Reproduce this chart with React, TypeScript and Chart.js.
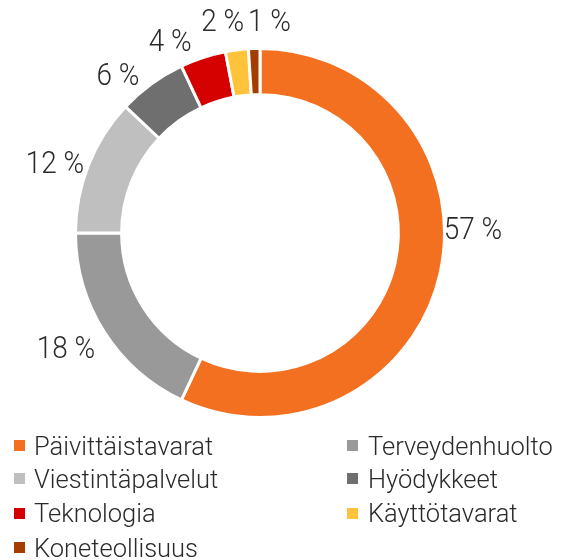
import React, { useEffect, useRef } from "react";
import { Chart, registerables } from "chart.js";

Chart.register(...registerables);

const categories = [
  "Päivittäistavarat",
  "Terveydenhuolto",
  "Viestintäpalvelut",
  "Hyödykkeet",
  "Teknologia",
  "Käyttötavarat",
  "Koneteollisuus",
];
const shares = [57, 18, 12, 6, 4, 2, 1];
const valueLabels = ["57 %", "18 %", "12 %", "6 %", "4 %", "2 %", "1 %"];
const colors = ["#F37021", "#999999", "#BFBFBF", "#6F6F6F", "#D50000", "#FFC33B", "#A43D00"];

const FONT = "Roboto, 'DejaVu Sans', sans-serif";
const TEXT_COLOR = "#2a2a2a";

// label placement tweaks (angle shift in degrees, distance beyond outer radius)
const labelPlacement = [
  { shift: -13.1, extra: 28.5 },
  { shift: 1.2, extra: 42.3 },
  { shift: -3.4, extra: 31.3 },
  { shift: -6.3, extra: 26.5 },
  { shift: -7.3, extra: 25.7 },
  { shift: -2.9, extra: 28.8 },
  { shift: 4.4, extra: 25.7 },
];

const outsideLabels = {
  id: "outsideLabels",
  afterDatasetsDraw(chart: any) {
    const ctx = chart.ctx;
    const meta = chart.getDatasetMeta(0);
    meta.data.forEach((arc: any, i: number) => {
      const p = labelPlacement[i] || { shift: 0, extra: 30 };
      const mid = (arc.startAngle + arc.endAngle) / 2 + (p.shift * Math.PI) / 180;
      const d = arc.outerRadius + p.extra;
      const x = arc.x + Math.cos(mid) * d;
      const y = arc.y + Math.sin(mid) * d;
      ctx.save();
      ctx.translate(x, y);
      ctx.scale(0.9, 1);
      ctx.font = `300 31px ${FONT}`;
      ctx.fillStyle = TEXT_COLOR;
      ctx.textAlign = "center";
      ctx.textBaseline = "middle";
      ctx.fillText(valueLabels[i], 0, 0);
      ctx.restore();
    });
  },
};

export default function App() {
  const ref = useRef<HTMLCanvasElement | null>(null);
  useEffect(() => {
    if (!ref.current) return;
    const chart = new Chart(ref.current, {
      type: "doughnut",
      data: {
        labels: categories,
        datasets: [
          {
            data: shares,
            backgroundColor: colors,
            borderColor: "#ffffff",
            borderWidth: 3,
            hoverBorderWidth: 3,
            hoverOffset: 0,
          },
        ],
      },
      options: {
        responsive: false,
        animation: false,
        cutout: "75%",
        layout: { padding: { left: 74, top: 47, right: 116, bottom: 21 } },
        plugins: {
          legend: { display: false },
          tooltip: { enabled: false },
        },
      },
      plugins: [outsideLabels],
    });
    return () => chart.destroy();
  }, []);

  return (
    <div style={{ position: "absolute", left: 0, top: 0, width: 562, height: 560, background: "#fff" }}>
      <canvas ref={ref} width={562} height={440} style={{ position: "absolute", left: 0, top: 0 }} />
      <div
        style={{
          position: "absolute",
          left: 14,
          top: 429,
          display: "grid",
          gridTemplateColumns: "333px auto",
          gridTemplateRows: "33px 33px 36px 33px",
          fontFamily: FONT,
          fontWeight: 300,
          fontSize: 25.5,
          color: TEXT_COLOR,
        }}
      >
        {categories.map((c, i) => (
          <div key={c} style={{ display: "flex", alignItems: "center", whiteSpace: "nowrap" }}>
            <span
              style={{
                display: "inline-block",
                width: 11,
                height: 11,
                background: colors[i],
                marginRight: i % 2 === 0 ? 9 : 10,
                flex: "none",
              }}
            />
            <span>{c}</span>
          </div>
        ))}
      </div>
    </div>
  );
}
